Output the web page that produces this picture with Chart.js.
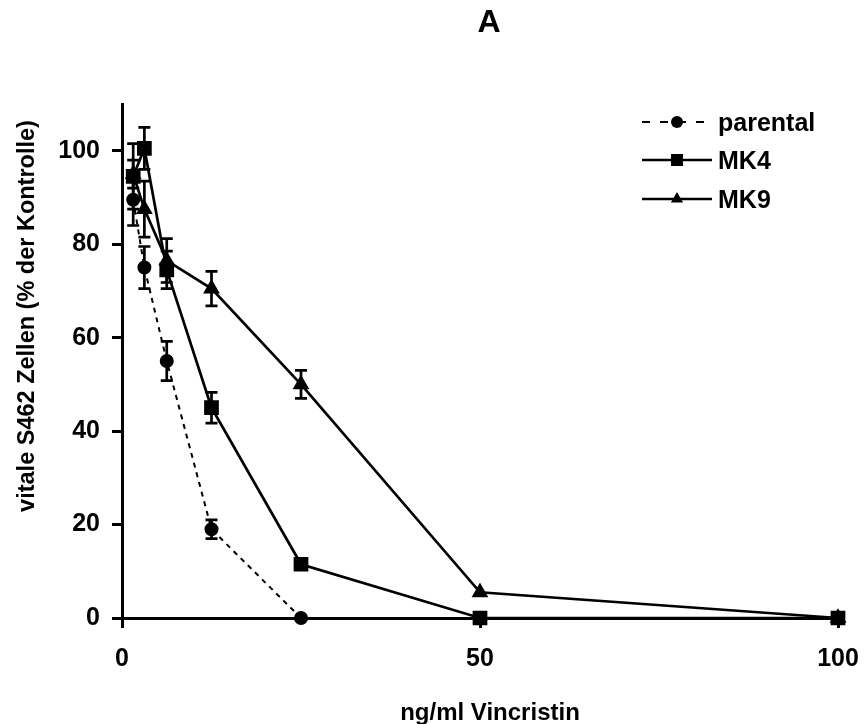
<!DOCTYPE html>
<html><head><meta charset="utf-8">
<script src="https://cdn.jsdelivr.net/npm/chart.js@4/dist/chart.umd.min.js"></script>
<style>html,body{margin:0;padding:0;background:#fff}#wrap{width:866px;height:724px}</style>
</head><body><div id="wrap"><canvas id="c" width="866" height="724"></canvas></div>
<script>
const concentrations = [1.5625, 3.125, 6.25, 12.5, 25, 50, 100];
const parental    = [89.5, 75, 55, 19, 0, 0, 0];
const parentalErr = [5.5, 4.5, 4.2, 2, 0, 0, 0];
const mk4         = [94.5, 100.5, 74.5, 45, 11.5, 0, 0];
const mk4Err      = [7, 4.5, 4, 3.3, 1, 0, 0];
const mk9         = [95, 87.5, 76.5, 70.5, 50, 5.5, 0];
const mk9Err      = [3, 6, 4.7, 3.7, 3, 0, 0];
const xTicks = [0, 50, 100];
const yTicks = [0, 20, 40, 60, 80, 100];
const seriesNames = ['parental', 'MK4', 'MK9'];
const chartTitle = 'A';
const xTitle = 'ng/ml Vincristin';
const yTitle = 'vitale S462 Zellen (% der Kontrolle)';

const FONT = '"Liberation Sans", Arial, sans-serif';
const pts = arr => concentrations.map((c, i) => ({x: c, y: arr[i]}));

const errorBars = {
  id: 'errorBars',
  afterDatasetsDraw(chart) {
    const {ctx, scales: {x, y}} = chart;
    ctx.save();
    ctx.strokeStyle = '#000';
    ctx.lineWidth = 2.7;
    chart.data.datasets.forEach(ds => {
      ds.data.forEach((p, i) => {
        const e = ds.errors[i];
        if (!e) return;
        const px = x.getPixelForValue(p.x);
        const yt = y.getPixelForValue(p.y + e), yb = y.getPixelForValue(p.y - e);
        ctx.beginPath();
        ctx.moveTo(px, yt); ctx.lineTo(px, yb);
        ctx.moveTo(px - 6, yt); ctx.lineTo(px + 6, yt);
        ctx.moveTo(px - 6, yb); ctx.lineTo(px + 6, yb);
        ctx.stroke();
      });
    });
    ctx.restore();
  }
};

function marker(ctx, style, x, y) {
  ctx.beginPath();
  if (style === 'circle') { ctx.arc(x, y, 6, 0, Math.PI * 2); }
  else if (style === 'rect') { ctx.rect(x - 6, y - 6, 12, 12); }
  else { ctx.moveTo(x, y - 7); ctx.lineTo(x + 6.1, y + 3.5); ctx.lineTo(x - 6.1, y + 3.5); ctx.closePath(); }
  ctx.fill();
}

const texts = {
  id: 'texts',
  afterDraw(chart) {
    const ctx = chart.ctx;
    ctx.save();
    ctx.fillStyle = '#000';
    ctx.textAlign = 'center';
    ctx.textBaseline = 'alphabetic';
    ctx.font = 'bold 32px ' + FONT;
    ctx.fillText(chartTitle, 489, 32);
    ctx.font = 'bold 24px ' + FONT;
    ctx.fillText(xTitle, 490, 720);
    ctx.save();
    ctx.translate(34, 316);
    ctx.rotate(-Math.PI / 2);
    ctx.font = 'bold 23.5px ' + FONT;
    ctx.fillText(yTitle, 0, 0);
    ctx.restore();
    // legend
    const rows = [122, 160, 199];
    chart.data.datasets.forEach((ds, i) => {
      const ly = rows[i];
      ctx.strokeStyle = '#000';
      ctx.lineWidth = ds.borderWidth;
      ctx.setLineDash(ds.borderDash && ds.borderDash.length ? [8, 10] : []);
      ctx.beginPath(); ctx.moveTo(642, ly); ctx.lineTo(712, ly); ctx.stroke();
      ctx.setLineDash([]);
      marker(ctx, ds.pointStyle, 677, ly);
      ctx.font = 'bold 25px ' + FONT;
      ctx.textAlign = 'left';
      ctx.fillText(ds.label, 718, ly + 9);
    });
    ctx.restore();
  }
};

new Chart(document.getElementById('c'), {
  type: 'scatter',
  data: {
    datasets: [
      {label: seriesNames[0], data: pts(parental), errors: parentalErr, showLine: true,
       borderColor: '#000', backgroundColor: '#000', borderWidth: 2, borderDash: [5, 5],
       pointStyle: 'circle', pointRadius: 6, pointHoverRadius: 6, clip: false},
      {label: seriesNames[1], data: pts(mk4), errors: mk4Err, showLine: true,
       borderColor: '#000', backgroundColor: '#000', borderWidth: 2.7,
       pointStyle: 'rect', pointRadius: 8.5, pointHoverRadius: 8.5, clip: false},
      {label: seriesNames[2], data: pts(mk9), errors: mk9Err, showLine: true,
       borderColor: '#000', backgroundColor: '#000', borderWidth: 2.7,
       pointStyle: 'triangle', pointRadius: 7, pointHoverRadius: 7, clip: false}
    ]
  },
  options: {
    responsive: false,
    devicePixelRatio: 1,
    animation: false,
    events: [],
    layout: {padding: {top: 104, right: 28, left: 0, bottom: 0}},
    plugins: {legend: {display: false}, title: {display: false}, tooltip: {enabled: false}},
    scales: {
      x: {
        type: 'linear', min: 0, max: 100,
        afterBuildTicks: s => { s.ticks = xTicks.map(v => ({value: v})); },
        afterFit: s => { s.height = 106; s.paddingLeft = 0; s.paddingRight = 0; },
        border: {display: true, color: '#000', width: 3},
        grid: {display: true, drawOnChartArea: false, drawTicks: true, tickLength: 10, color: '#000', lineWidth: 3},
        ticks: {color: '#000', font: {family: FONT, size: 25, weight: 'bold'}, padding: 16, maxRotation: 0}
      },
      y: {
        type: 'linear', min: 0, max: 110,
        afterBuildTicks: s => { s.ticks = yTicks.map(v => ({value: v})); },
        afterFit: s => { s.width = 122; s.paddingTop = 0; s.paddingBottom = 0; },
        border: {display: true, color: '#000', width: 3},
        grid: {display: true, drawOnChartArea: false, drawTicks: true, tickLength: 10, color: '#000', lineWidth: 3},
        ticks: {color: '#000', font: {family: FONT, size: 25, weight: 'bold'}, padding: 12}
      }
    }
  },
  plugins: [errorBars, texts]
});
</script>
</body></html>
